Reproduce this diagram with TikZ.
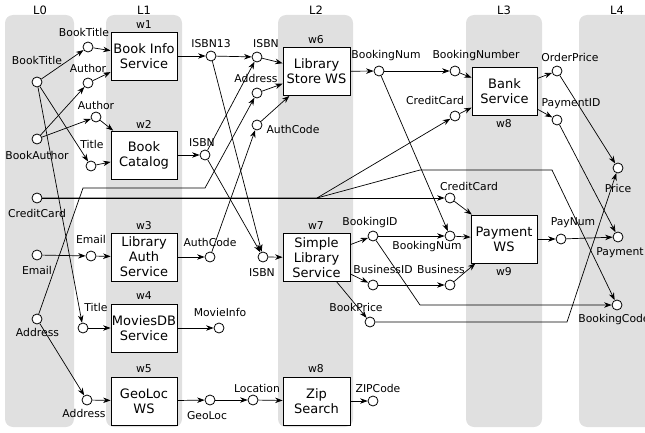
\documentclass[tikz,border=0pt]{standalone}
\usepackage{fontspec}
\setmainfont{DejaVu Sans}
\usetikzlibrary{arrows.meta}
\definecolor{laygray}{RGB}{224,224,224}
\begin{document}
\begin{tikzpicture}[x=1pt,y=-1pt,
  layerbox/.style={fill=laygray, draw=none, rounded corners=8pt},
  svc/.style={draw, fill=white, line width=0.8pt, minimum width=66pt, minimum height=48pt,
    inner sep=0pt, align=center, font=\fontsize{13}{15}\selectfont},
  dot/.style={circle, draw, fill=white, minimum size=10pt, inner sep=0pt, line width=0.8pt},
  lbl/.style={font=\fontsize{10.8}{12}\selectfont, inner sep=0pt},
  laylbl/.style={font=\fontsize{11.5}{13}\selectfont, inner sep=0pt},
  arr/.style={-{Stealth[length=7.5pt,width=5.5pt]}, line width=0.7pt},
  ln/.style={line width=0.7pt}
]
\useasboundingbox (0,0) rectangle (645,433);
% layers
\begin{scope}
\clip (0,0) rectangle (645,433);
\path[layerbox] (5,15) rectangle (74,427);
\path[layerbox] (106,15) rectangle (182,427);
\path[layerbox] (278,15) rectangle (353,427);
\path[layerbox] (466,15) rectangle (542,427);
\path[layerbox] (579,15) rectangle (660,427);
\end{scope}
\node[laylbl] (L0) at (40,10) {L0};
\node[laylbl] (L1) at (144,10) {L1};
\node[laylbl] (L2) at (316,10) {L2};
\node[laylbl] (L3) at (504,10) {L3};
\node[laylbl] (L4) at (617,10) {L4};

% services
\node[svc] (w1) at (144,56) {Book Info\\Service};
\node[svc] (w2) at (144,155) {Book\\Catalog};
\node[svc] (w3) at (144,257) {Library\\Auth\\Service};
\node[svc] (w4) at (144,328) {MoviesDB\\Service};
\node[svc] (w5) at (144,401) {GeoLoc\\WS};
\node[svc, minimum width=67pt] (w6) at (316.5,71.5) {Library\\Store WS};
\node[svc, minimum width=67pt] (w7) at (316.5,257.5) {Simple\\Library\\Service};
\node[svc, minimum width=67pt] (w8z) at (316.5,401) {Zip\\Search};
\node[svc, minimum width=65pt] (w8b) at (504.5,91) {Bank\\Service};
\node[svc, minimum width=66pt] (w9) at (504,239) {Payment\\WS};

\node[lbl] (w1l) at (144,25) {w1};
\node[lbl] (w2l) at (144,124) {w2};
\node[lbl] (w3l) at (144,226) {w3};
\node[lbl] (w4l) at (144,296) {w4};
\node[lbl] (w5l) at (144,369) {w5};
\node[lbl] (w6l) at (316,40) {w6};
\node[lbl] (w7l) at (316,226) {w7};
\node[lbl] (w8zl) at (316,369) {w8};
\node[lbl] (w8bl) at (504,124) {w8};
\node[lbl] (w9l) at (504,272) {w9};

% circles
\node[dot] (bt0) at (37,82) {};
\node[dot] (ba0) at (37,139) {};
\node[dot] (cc0) at (37,198) {};
\node[dot] (em0) at (37,255) {};
\node[dot] (ad0) at (37,319) {};
\node[dot] (bt1) at (88,47) {};
\node[dot] (au1) at (88,83) {};
\node[dot] (au2) at (96,117) {};
\node[dot] (ti2) at (91,166) {};
\node[dot] (em3) at (91,256) {};
\node[dot] (ti4) at (83,328) {};
\node[dot] (ad5) at (87,400) {};
\node[dot] (isbn13) at (211,56) {};
\node[dot] (isbn2) at (205,155) {};
\node[dot] (ac3) at (210,257) {};
\node[dot] (mi4) at (219,328) {};
\node[dot] (gl5) at (210,400) {};
\node[dot] (loc) at (253,400) {};
\node[dot] (isbn6) at (257,57) {};
\node[dot] (ad6) at (257,93) {};
\node[dot] (ac6) at (257,125) {};
\node[dot] (isbn7) at (263,257) {};
\node[dot] (bn6) at (379,71) {};
\node[dot] (bnum) at (455,71) {};
\node[dot] (cc8) at (455,116) {};
\node[dot] (cc9) at (450,198) {};
\node[dot] (bid) at (373,236) {};
\node[dot] (bn9) at (450,236) {};
\node[dot] (bsid) at (373,285) {};
\node[dot] (bus) at (450,285) {};
\node[dot] (bp) at (370,322) {};
\node[dot] (zip) at (373,401) {};
\node[dot] (op) at (557,71) {};
\node[dot] (pid) at (557,120) {};
\node[dot] (pn) at (561,239) {};
\node[dot] (pr) at (618,168) {};
\node[dot] (pay) at (618,237) {};
\node[dot] (bc) at (617,305) {};

% circle labels
\node[lbl] (tbt0) at (37,60) {BookTitle};
\node[lbl] (tba0) at (37,155) {BookAuthor};
\node[lbl] (tcc0) at (37,213) {CreditCard};
\node[lbl] (tem0) at (37,270) {Email};
\node[lbl] (tad0) at (37.5,332) {Address};
\node[lbl] (tbt1) at (84,32) {BookTitle};
\node[lbl] (tau1) at (88,68) {Author};
\node[lbl] (tau2) at (96,105) {Author};
\node[lbl] (tti2) at (92,144) {Title};
\node[lbl] (tem3) at (91,239) {Email};
\node[lbl] (tti4) at (96,307) {Title};
\node[lbl] (tad5) at (84,413) {Address};
\node[lbl] (tisbn13) at (211,44) {ISBN13};
\node[lbl] (tisbn2) at (202,143) {ISBN};
\node[lbl] (tac3) at (210,242) {AuthCode};
\node[lbl] (tmi4) at (220,312) {MovieInfo};
\node[lbl] (tgl5) at (207,416) {GeoLoc};
\node[lbl] (tloc) at (257,388) {Location};
\node[lbl] (tisbn6) at (266,44) {ISBN};
\node[lbl] (tad6) at (256,78) {Address};
\node[lbl] (tac6) at (293,129) {AuthCode};
\node[lbl] (tisbn7) at (262,273) {ISBN};
\node[lbl] (tbn6) at (386,56) {BookingNum};
\node[lbl] (tbnum) at (476,56) {BookingNumber};
\node[lbl] (tcc8) at (435,100) {CreditCard};
\node[lbl] (tcc9) at (469,186) {CreditCard};
\node[lbl] (tbid) at (370,223) {BookingID};
\node[lbl] (tbn9) at (427,247) {BookingNum};
\node[lbl] (tbsid) at (383,269) {BusinessID};
\node[lbl] (tbus) at (441,269) {Business};
\node[lbl] (tbp) at (356,307) {BookPrice};
\node[lbl] (tzip) at (378,388) {ZIPCode};
\node[lbl] (top) at (570,57) {OrderPrice};
\node[lbl] (tpid) at (571,104) {PaymentID};
\node[lbl] (tpn) at (573,223) {PayNum};
\node[lbl] (tpr) at (618,188) {Price};
\node[lbl] (tpay) at (620,253) {Payment};
\node[lbl] (tbc) at (614,320) {BookingCode};

% bend points
\coordinate (k1) at (83,188);
\coordinate (k2) at (205,188);
\coordinate (k3) at (317,198);
\coordinate (k4) at (420,170);
\coordinate (k5) at (552,170);
\coordinate (k6) at (420,305);
\coordinate (k7) at (567,322);

% edges
\draw[arr] (bt0) -- (bt1);
\draw[arr] (bt1) -- (w1);
\draw[arr] (au1) -- (w1);
\draw[arr] (ba0) -- (au1);
\draw[arr] (ba0) -- (au2);
\draw[arr] (au2) -- (w2);
\draw[arr] (bt0) -- (ti2);
\draw[arr] (ti2) -- (w2);
\draw[arr] (bt0) -- (ti4);
\draw[arr] (ti4) -- (w4);
\draw[arr] (em0) -- (em3);
\draw[arr] (em3) -- (w3);
\draw[arr] (ad0) -- (ad5);
\draw[arr] (ad5) -- (w5);
\draw[arr] (ad0) -- (k1) -- (k2) -- (ad6);
\draw[arr] (cc0) -- (k3) -- (cc8);
\draw[arr] (cc0) -- (cc9);
\draw[arr] (k3) -- (k4) -- (k5) -- (bc);
\draw[arr] (w1) -- (isbn13);
\draw[arr] (isbn13) -- (isbn6);
\draw[arr] (isbn13) -- (isbn7);
\draw[arr] (w2) -- (isbn2);
\draw[arr] (isbn2) -- (isbn6);
\draw[arr] (isbn2) -- (isbn7);
\draw[arr] (w3) -- (ac3);
\draw[arr] (ac3) -- (ac6);
\draw[arr] (w4) -- (mi4);
\draw[arr] (w5) -- (gl5);
\draw[arr] (gl5) -- (loc);
\draw[arr] (loc) -- (w8z);
\draw[arr] (w8z) -- (zip);
\draw[arr] (isbn6) -- (w6);
\draw[arr] (ad6) -- (w6);
\draw[arr] (ac6) -- (w6);
\draw[arr] (isbn7) -- (w7);
\draw[arr] (w6) -- (bn6);
\draw[arr] (bn6) -- (bnum);
\draw[arr] (bn6) -- (bn9);
\draw[arr] (bnum) -- (w8b);
\draw[arr] (cc8) -- (w8b);
\draw[arr] (w8b) -- (op);
\draw[arr] (w8b) -- (pid);
\draw[arr] (op) -- (pr);
\draw[arr] (pid) -- (pay);
\draw[arr] (w7) -- (bid);
\draw[arr] (w7) -- (bsid);
\draw[arr] (w7) -- (bp);
\draw[arr] (bid) -- (bn9);
\draw[arr] (bsid) -- (bus);
\draw[arr] (bid) -- (k6) -- (bc);
\draw[arr] (bp) -- (k7) -- (pr);
\draw[arr] (cc9) -- (w9);
\draw[arr] (bn9) -- (w9);
\draw[arr] (bus) -- (w9);
\draw[arr] (w9) -- (pn);
\draw[arr] (pn) -- (pay);
\end{tikzpicture}
\end{document}
